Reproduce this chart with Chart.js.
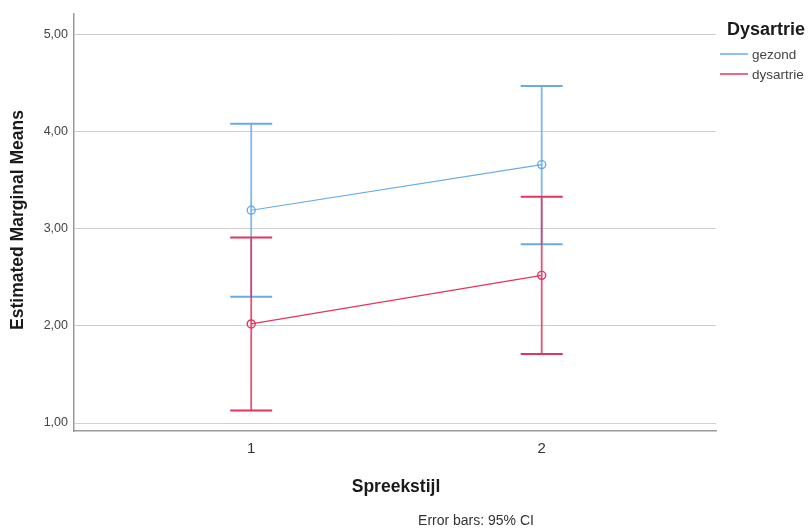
<!DOCTYPE html>
<html>
<head>
<meta charset="utf-8">
<script src="https://cdn.jsdelivr.net/npm/chart.js@4/dist/chart.umd.min.js"></script>
<style>
  html, body { margin: 0; padding: 0; background: #fff; }
  #wrap { width: 812px; height: 532px; position: relative; }
</style>
</head>
<body>
<div id="wrap"><canvas id="emm-chart"></canvas></div>
<script>
"use strict";

//=> Data
var spreekstijl = [1, 2];
var yTicks = [1, 2, 3, 4, 5];

var gezondMean = [3.19, 3.66];
var gezondLow = [2.30, 2.84];
var gezondHigh = [4.08, 4.47];

var dysartrieMean = [2.02, 2.52];
var dysartrieLow = [1.13, 1.71];
var dysartrieHigh = [2.91, 3.33];

var blue = '#68ace5';
var red = '#e2355d';
var FONT = '"Liberation Sans", Arial, sans-serif';

function points(xs, ys) {
    return xs.map(function (x, i) { return { x: x, y: ys[i] }; });
}

//=> Error bars, axis titles, legend and footnote
var extrasPlugin = {
    id: 'extras',
    afterDatasetsDraw: function (chart) {
        var ctx = chart.ctx;
        var xs = chart.scales.x, ys = chart.scales.y;
        var bars = [
            { low: gezondLow, high: gezondHigh, color: blue },
            { low: dysartrieLow, high: dysartrieHigh, color: red }
        ];
        ctx.save();
        bars.forEach(function (b) {
            ctx.strokeStyle = b.color;
            spreekstijl.forEach(function (c, i) {
                var px = xs.getPixelForValue(c);
                var top = ys.getPixelForValue(b.high[i]);
                var bot = ys.getPixelForValue(b.low[i]);
                ctx.globalAlpha = 0.85;
                ctx.lineWidth = 1.8;
                ctx.beginPath();
                ctx.moveTo(px, top);
                ctx.lineTo(px, bot);
                ctx.stroke();
                ctx.globalAlpha = 1;
                ctx.lineWidth = 2;
                ctx.beginPath();
                ctx.moveTo(px - 21, top);
                ctx.lineTo(px + 21, top);
                ctx.moveTo(px - 21, bot);
                ctx.lineTo(px + 21, bot);
                ctx.stroke();
            });
        });
        ctx.restore();
    },
    afterDraw: function (chart) {
        var ctx = chart.ctx;
        var area = chart.chartArea;
        ctx.save();
        ctx.fillStyle = '#1a1a1a';
        ctx.textAlign = 'center';
        ctx.textBaseline = 'middle';

        // y title
        ctx.save();
        ctx.translate(18, 220);
        ctx.rotate(-Math.PI / 2);
        ctx.font = 'bold 17.5px ' + FONT;
        ctx.fillText('Estimated Marginal Means', 0, 0);
        ctx.restore();

        // x title
        ctx.font = 'bold 17.5px ' + FONT;
        ctx.fillText('Spreekstijl', 396, 487);

        // footnote
        ctx.font = '14px ' + FONT;
        ctx.fillStyle = '#333';
        ctx.fillText('Error bars: 95% CI', 476, 521);

        // legend
        ctx.textAlign = 'left';
        ctx.fillStyle = '#1a1a1a';
        ctx.font = 'bold 18px ' + FONT;
        ctx.fillText('Dysartrie', 727, 30);
        ctx.font = '13.5px ' + FONT;
        chart.data.datasets.forEach(function (ds, i) {
            var y = 54 + i * 20;
            ctx.strokeStyle = ds.borderColor;
            ctx.lineWidth = 1.5;
            ctx.beginPath();
            ctx.moveTo(720, y);
            ctx.lineTo(748, y);
            ctx.stroke();
            ctx.fillStyle = '#444';
            ctx.fillText(ds.label, 752, y + 1);
        });
        ctx.restore();
    }
};

//=> Chart
var ctx = document.getElementById('emm-chart').getContext('2d');
var myChart = new Chart(ctx, {
    type: 'line',
    data: {
        datasets: [{
            label: 'gezond',
            data: points(spreekstijl, gezondMean),
            borderColor: blue,
            backgroundColor: 'rgba(255,255,255,0)',
            borderWidth: 1.2,
            pointRadius: 4,
            pointBorderWidth: 1.4,
            pointBackgroundColor: 'rgba(255,255,255,0)'
        }, {
            label: 'dysartrie',
            data: points(spreekstijl, dysartrieMean),
            borderColor: red,
            backgroundColor: 'rgba(255,255,255,0)',
            borderWidth: 1.2,
            pointRadius: 4,
            pointBorderWidth: 1.4,
            pointBackgroundColor: 'rgba(255,255,255,0)'
        }]
    },
    options: {
        responsive: true,
        maintainAspectRatio: false,
        animation: false,
        layout: { padding: { left: 0, top: 11, right: 96, bottom: 0 } },
        plugins: {
            legend: { display: false },
            tooltip: { enabled: false }
        },
        scales: {
            x: {
                type: 'linear',
                min: 0.39,
                max: 2.6,
                afterBuildTicks: function (scale) {
                    scale.ticks = spreekstijl.map(function (v) { return { value: v }; });
                },
                afterFit: function (scale) { scale.height = 101; },
                grid: { display: false, drawTicks: false },
                border: { display: true, color: '#9a9a9a', width: 1.5 },
                ticks: {
                    padding: 9,
                    color: '#333',
                    font: { size: 15, family: FONT },
                    callback: function (v) { return String(v); }
                }
            },
            y: {
                type: 'linear',
                min: 0.918,
                max: 5.215,
                afterBuildTicks: function (scale) {
                    scale.ticks = yTicks.map(function (v) { return { value: v }; });
                },
                afterFit: function (scale) { scale.width = 74; },
                grid: { color: '#cfcfcf', lineWidth: 1, drawTicks: false },
                border: { display: true, color: '#9a9a9a', width: 1.5 },
                ticks: {
                    padding: 6,
                    color: '#444',
                    font: { size: 12.5, family: FONT },
                    callback: function (v) { return v.toFixed(2).replace('.', ','); }
                }
            }
        }
    },
    plugins: [extrasPlugin]
});
</script>
</body>
</html>
